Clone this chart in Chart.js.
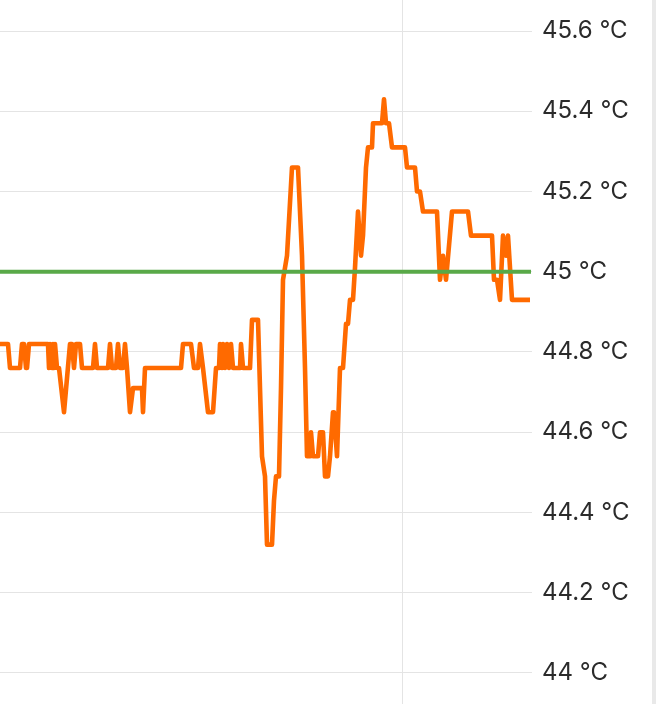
<!DOCTYPE html>
<html lang="en">
<head>
<meta charset="utf-8">
<title>Temperature history</title>
<script src="https://cdn.jsdelivr.net/npm/chart.js@4/dist/chart.umd.min.js"></script>
<style>
	html, body {
		margin: 0;
		padding: 0;
		background: #ffffff;
		overflow: hidden;
	}

	.frame {
		position: relative;
		width: 656px;
		height: 704px;
	}

	.frame canvas {
		display: block;
	}

	.edge {
		position: absolute;
		top: 0;
		right: 0;
		width: 4px;
		height: 100%;
		background: #e9e9e9;
	}
</style>
</head>
<body>
<div class="frame">
	<canvas id="history" width="656" height="704"></canvas>
	<div class="edge"></div>
</div>

<script>
// sample times in minutes from the left edge of the view
const minutes = [
	-1, 2, 2.5, 5, 5.5, 6, 6.5, 6.75, 7.25, 12,
	12.25, 12.5, 13, 13.25, 13.5, 13.75, 14.25, 14.75, 16, 17.5,
	18, 18.5, 19, 20, 20.5, 23.25, 23.75, 24.25, 27, 27.5,
	28, 29, 29.5, 30, 30.75, 31.25, 31.75, 32.5, 33.25, 35.5,
	35.75, 36.25, 45.25, 45.75, 47.75, 48.5, 49.5, 50, 50.75, 52,
	53.25, 54, 54.75, 55, 55.5, 55.75, 56.25, 56.75, 57.25, 57.75,
	58.25, 60, 60.25, 60.75, 62.5, 63, 64.5, 65.5, 66.25, 66.75,
	68, 68.5, 69, 69.75, 70.25, 70.75, 71.75, 73, 74.5, 75.5,
	76.25, 76.75, 77.5, 77.75, 78.25, 79.5, 80, 80.75, 81.25, 82,
	82.5, 83.25, 83.5, 84.25, 85, 85.75, 86.5, 87, 87.5, 88.25,
	88.75, 89.5, 90.25, 90.75, 91.5, 92, 93, 93.25, 95.5, 96,
	96.5, 97.25, 98, 101.25, 101.75, 103.75, 104.25, 105, 105.75, 109.25,
	110, 110.75, 111.5, 113, 117, 117.75, 123, 123.5, 124.25, 125,
	125.75, 126.5, 127, 128, 132.5,
];

const temperature = [
	44.82, 44.82, 44.76, 44.76, 44.82, 44.82, 44.76, 44.76, 44.82, 44.82,
	44.76, 44.82, 44.76, 44.82, 44.76, 44.82, 44.76, 44.76, 44.65, 44.82,
	44.82, 44.76, 44.82, 44.82, 44.76, 44.76, 44.82, 44.76, 44.76, 44.82,
	44.76, 44.76, 44.82, 44.76, 44.76, 44.82, 44.76, 44.65, 44.71, 44.71,
	44.65, 44.76, 44.76, 44.82, 44.82, 44.76, 44.76, 44.82, 44.76, 44.65,
	44.65, 44.76, 44.76, 44.82, 44.76, 44.82, 44.76, 44.82, 44.76, 44.82,
	44.76, 44.76, 44.82, 44.76, 44.76, 44.88, 44.88, 44.54, 44.49, 44.32,
	44.32, 44.43, 44.49, 44.49, 44.71, 44.98, 45.04, 45.26, 45.26, 45.04,
	44.76, 44.54, 44.54, 44.60, 44.54, 44.54, 44.60, 44.60, 44.49, 44.49,
	44.54, 44.65, 44.65, 44.54, 44.76, 44.76, 44.87, 44.87, 44.93, 44.93,
	45.01, 45.15, 45.04, 45.09, 45.26, 45.31, 45.31, 45.37, 45.37, 45.43,
	45.37, 45.37, 45.31, 45.31, 45.26, 45.26, 45.20, 45.20, 45.15, 45.15,
	44.98, 45.04, 44.98, 45.15, 45.15, 45.09, 45.09, 44.98, 44.98, 44.93,
	45.09, 45.04, 45.09, 44.93, 44.93,
];

const targetMinutes = [-1, 132.75];
const targetTemperature = [45, 45];

const viewMinutes = [0, 133];
const hourMarks = [100.5];
const tempRange = [43.9227, 45.6773];
const tempStep = 0.2;

const toPoints = (xs, ys) => xs.map((x, i) => ({ x, y: ys[i] }));

const formatTemp = (value) => `${Number(value.toFixed(1))} °C`;

document.addEventListener('DOMContentLoaded', () => {
	const canvas = document.getElementById('history');

	new Chart(canvas, {
		type: 'line',
		data: {
			datasets: [
				{
					label: 'Target',
					data: toPoints(targetMinutes, targetTemperature),
					borderColor: '#59a948',
					borderWidth: 4,
					pointRadius: 0,
					tension: 0,
				},
				{
					label: 'Temperature',
					data: toPoints(minutes, temperature),
					borderColor: '#ff6a00',
					borderWidth: 4.6,
					borderJoinStyle: 'round',
					pointRadius: 0,
					tension: 0,
				},
			],
		},
		options: {
			responsive: false,
			animation: false,
			layout: { padding: 0 },
			plugins: {
				legend: { display: false },
				tooltip: { enabled: false },
			},
			scales: {
				x: {
					type: 'linear',
					min: viewMinutes[0],
					max: viewMinutes[1],
					afterBuildTicks: (scale) => {
						scale.ticks = hourMarks.map((value) => ({ value }));
					},
					ticks: { display: false },
					grid: {
						color: '#e4e4e4',
						lineWidth: 1,
						drawTicks: false,
					},
					border: { display: false },
				},
				y: {
					position: 'right',
					min: tempRange[0],
					max: tempRange[1],
					afterFit: (scale) => {
						scale.width = 124;
						scale.paddingTop = 0;
						scale.paddingBottom = 0;
					},
					ticks: {
						stepSize: tempStep,
						includeBounds: false,
						padding: 10,
						color: '#2b2b2b',
						font: { family: 'Inter', size: 24 },
						callback: (value) => formatTemp(value),
					},
					grid: {
						color: '#e4e4e4',
						lineWidth: 1,
						drawTicks: false,
					},
					border: { display: false },
				},
			},
		},
	});
});
</script>
</body>
</html>
